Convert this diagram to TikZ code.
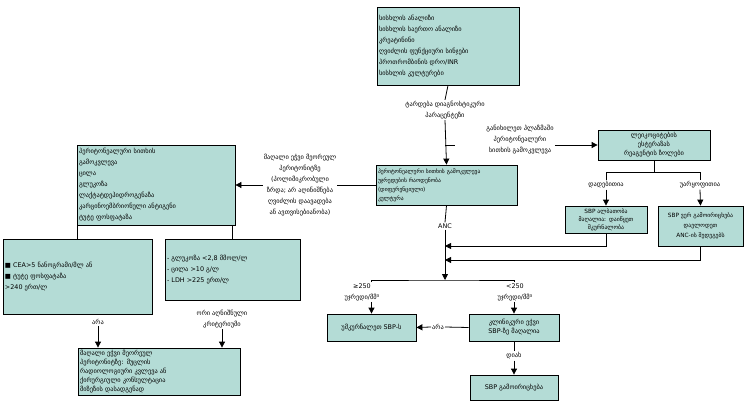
\documentclass[tikz,border=0pt]{standalone}
\usepackage{fontspec}
\setmainfont{DejaVu Sans}
\usetikzlibrary{arrows.meta}
\definecolor{boxfill}{RGB}{180,220,214}
\tikzset{
  box/.style={draw=black, fill=boxfill, line width=0.8pt, inner sep=2pt, font=\fontsize{6.4}{11}\selectfont},
  lbl/.style={inner sep=1pt, align=center, font=\fontsize{6.4}{11}\selectfont},
  arr/.style={-{Triangle[length=6pt,width=6pt]}, line width=0.8pt},
  ln/.style={line width=0.8pt}
}
\begin{document}
\begin{tikzpicture}[x=1pt,y=-1pt]
\useasboundingbox (0,0) rectangle (746,406);
% top
\node[box, minimum width=142pt, minimum height=78pt, text width=138pt, align=left] (blood) at (448,46)
  {სისხლის ანალიზი\\სისხლის საერთო ანალიზი\\კრეატინინი\\ღვიძლის ფუნქციური სინჯები\\პროთრომბინის დრო/INR\\სისხლის კულტურები};
\node[lbl] (para) at (445,110) {ტარდება დიაგნოსტიკური\\პარაცენტეზი};
\node[lbl] (bed) at (520,140) {განიხილეთ პლაზმაში\\პერიტონეალური\\სითხის გამოკვლევა};
\node[box, minimum width=112pt, minimum height=30pt, text width=108pt, align=center, font=\fontsize{6.4}{9}\selectfont] (strip) at (654,145)
  {ლეიკოციტების\\ესტერაზას\\რეაგენტის ზოლები};
\node[box, minimum width=141pt, minimum height=40pt, text width=137pt, align=left, font=\fontsize{5.6}{9}\selectfont] (fluid) at (446.5,185)
  {პერიტონეალური სითხის გამოკვლევა\\უჯრედების რაოდენობა\\(დიფერენციული)\\კულტურა};
\coordinate (stub) at (455,145);
% left branch
\node[lbl] (susp) at (300,185) {მაღალი ეჭვი მეორეულ\\პერიტონიტზე\\(პოლიმიკრობული\\ზრდა; არ აღინიშნება\\ღვიძლის დაავადება\\ან ავთვისებიანობა)};
\node[box, minimum width=158pt, minimum height=80pt, text width=154pt, align=left] (chem) at (156,185)
  {პერიტონეალური სითხის\\გამოკვლევა\\ცილა\\გლუკოზა\\ლაქტატდეჰიდროგენაზა\\კარცინოემბრიონული ანტიგენი\\ტუტე ფოსფატაზა};
\node[box, minimum width=149pt, minimum height=75pt, text width=145pt, align=left] (cea) at (77.5,276.5)
  {■ CEA>5 ნანოგრამი/მლ ან\\■ ტუტე ფოსფატაზა\\>240 ერთ/ლ};
\node[box, minimum width=135pt, minimum height=61pt, text width=131pt, align=left] (glu) at (232.5,269.5)
  {- გლუკოზა <2,8 მმოლ/ლ\\- ცილა >10 გ/ლ\\- LDH >225 ერთ/ლ};
\node[lbl] (no1) at (98,322) {არა};
\node[lbl] (two) at (222,319) {ორი აღნიშნული\\კრიტერიუმი};
\node[box, minimum width=162pt, minimum height=47pt, text width=158pt, align=left, font=\fontsize{6.4}{9}\selectfont] (second) at (159,371.5)
  {მაღალი ეჭვი მეორეულ\\პერიტონიტზე: მუცლის\\რადიოლოგიური კვლევა ან\\ქირურგიული კონსულტაცია\\მიზეზის დასადგენად};
% right branch
\node[lbl] (pos) at (606,185) {დადებითია};
\node[lbl] (neg) at (700,185) {უარყოფითია};
\node[box, minimum width=80pt, minimum height=27pt, text width=78pt, align=center, font=\fontsize{5.8}{8}\selectfont] (high) at (606,219.5)
  {SBP ალბათობა\\მაღალია: დაიწყეთ\\მკურნალობა};
\node[box, minimum width=83pt, minimum height=40pt, text width=81pt, align=center, font=\fontsize{5.8}{10}\selectfont] (wait) at (700.5,226)
  {SBP ვერ გამოირიცხება\\დაელოდეთ\\ANC-ის შედეგებს};
% ANC
\node[lbl] (anc) at (445,226) {ANC};
\coordinate (join1) at (445,246);
\coordinate (join2) at (445,260);
\coordinate (split) at (445,280);
\node[lbl] (hi) at (362,292) {≥250\\უჯრედი/მმ³};
\node[lbl] (lo) at (515,292) {<250\\უჯრედი/მმ³};
\node[box, minimum width=89pt, minimum height=27pt, align=center] (treat) at (371.5,327.5) {უმკურნალეთ SBP-ს};
\node[box, minimum width=88pt, minimum height=27pt, text width=86pt, align=center, font=\fontsize{6.4}{9}\selectfont] (clin) at (514,327.5)
  {კლინიკური ეჭვი\\SBP-ზე მაღალია};
\node[lbl] (no2) at (438,327) {არა};
\node[lbl] (yes) at (514,356) {დიახ};
\node[box, minimum width=88pt, minimum height=25pt, align=center] (excl) at (514,387.5) {SBP გამოირიცხება};
% connectors
\draw[ln] (blood.south) -- (para.north);
\draw[arr] (para.south) -- (fluid.north);
\draw[ln] (para.south |- stub) -- (stub);
\draw[arr] (bed.east |- strip.west) -- (strip.west);
\draw[ln] (fluid.west) -- (susp.east);
\draw[arr] (susp.west) -- (chem.east);
\draw[ln] (chem.south -| cea.north) -- (cea.north);
\draw[ln] (chem.south -| glu.north) -- (glu.north);
\draw[arr] (no1.south) -- (second.north -| no1.south);
\draw[arr] (two.south) -- (second.north -| two.south);
\draw[ln] (strip.south) -- ++(0,12) -| (pos.north);
\draw[ln] (strip.south) ++(0,12) -| (neg.north);
\draw[arr] (pos.south) -- (high.north);
\draw[arr] (neg.south) -- (wait.north);
\draw[ln] (fluid.south) -- (anc.north);
\draw[arr] (high.south) |- (join1);
\draw[arr] (wait.south) |- (join2);
\draw[arr] (anc.south) -- (split);
\draw[ln] (hi.north -| treat.north) |- (split) -| (lo.north -| clin.north);
\draw[arr] (hi.south -| treat.north) -- (treat.north);
\draw[arr] (lo.south -| clin.north) -- (clin.north);
\draw[ln] (clin.west) -- (no2.east);
\draw[arr] (no2.west) -- (treat.east);
\draw[ln] (clin.south) -- (yes.north);
\draw[arr] (yes.south) -- (excl.north);
\end{tikzpicture}
\end{document}
